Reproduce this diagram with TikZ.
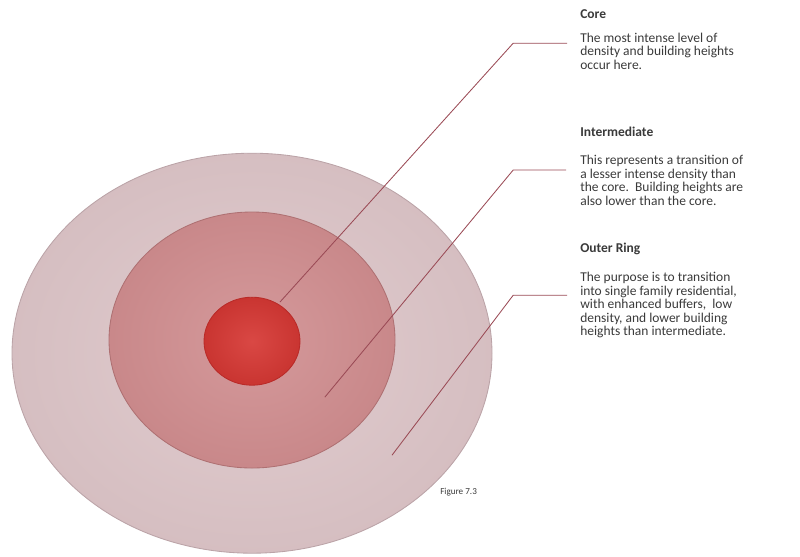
\documentclass[tikz,border=0pt]{standalone}
\usepackage{fontspec}
\setmainfont{Carlito}
\usetikzlibrary{shapes.geometric}
\definecolor{ringout}{HTML}{DCC4C7}
\definecolor{ringoutedge}{HTML}{BBA3A7}
\definecolor{ringmid}{HTML}{CF8C8E}
\definecolor{ringmidedge}{HTML}{AE7072}
\definecolor{ringcore}{HTML}{D63834}
\definecolor{ringcoreedge}{HTML}{B92A28}
\definecolor{leader}{HTML}{9A4A55}
\definecolor{txt}{HTML}{3A3A3A}
\tikzset{
  zone/.style={ellipse, draw, line width=0.6pt, inner sep=0pt},
  lead/.style={leader, line width=0.6pt},
  head/.style={font=\fontsize{9.6}{9.6}\selectfont\bfseries, text=txt, inner sep=0pt, anchor=base west},
  body/.style={font=\fontsize{9.6}{9.6}\selectfont, text=txt, inner sep=0pt, align=left, anchor=north west}
}
\begin{document}
\begin{tikzpicture}
  \useasboundingbox (0,0) rectangle (20,-13.9);
  % the three zones, largest first
  \node[zone, draw=ringoutedge, inner color=ringout!85!white, outer color=ringout!97!black,
        minimum width=12cm, minimum height=10cm] (outer) at (6.3,-8.83) {};
  \node[zone, draw=ringmidedge, inner color=ringmid!88!white, outer color=ringmid!97!black,
        minimum width=7.15cm, minimum height=6.4cm] (mid) at (6.3,-8.5) {};
  \node[zone, draw=ringcoreedge, inner color=ringcore!92!white, outer color=ringcore!94!black,
        minimum width=2.4cm, minimum height=2.2cm] (core) at (6.3,-8.53) {};
  % texts on the right
  \node[head] (core-title) at (14.5,-0.45) {Core};
  \node[body] (core-body) at (14.5,-0.82) {The most intense level of\\density and building heights\\occur here.};
  \node[head] (mid-title) at (14.5,-3.4) {Intermediate};
  \node[body] (mid-body) at (14.5,-3.88) {This represents a transition of\\a lesser intense density than\\the core.\ \ Building heights are\\also lower than the core.};
  \node[head] (out-title) at (14.5,-6.3) {Outer Ring};
  \node[body] (out-body) at (14.5,-6.8) {The purpose is to transition\\into single family residential,\\with enhanced buffers,\ \ low\\density, and lower building\\heights than intermediate.};
  \node[font=\fontsize{6.5}{8}\selectfont, text=txt, inner sep=0pt, anchor=base west] (fig) at (11.0,-12.35) {Figure 7.3};
  % leaders
  \coordinate (core-pt) at (7.0,-7.55);
  \coordinate (core-knee) at (12.83,-1.08);
  \coordinate (core-end) at (14.18,-1.08);
  \coordinate (mid-pt) at (8.12,-9.93);
  \coordinate (mid-knee) at (12.83,-4.25);
  \coordinate (mid-end) at (14.15,-4.25);
  \coordinate (out-pt) at (9.8,-11.38);
  \coordinate (out-knee) at (12.83,-7.38);
  \coordinate (out-end) at (14.18,-7.38);
  \draw[lead] (core-pt) -- (core-knee) -- (core-end);
  \draw[lead] (mid-pt) -- (mid-knee) -- (mid-end);
  \draw[lead] (out-pt) -- (out-knee) -- (out-end);
\end{tikzpicture}
\end{document}
